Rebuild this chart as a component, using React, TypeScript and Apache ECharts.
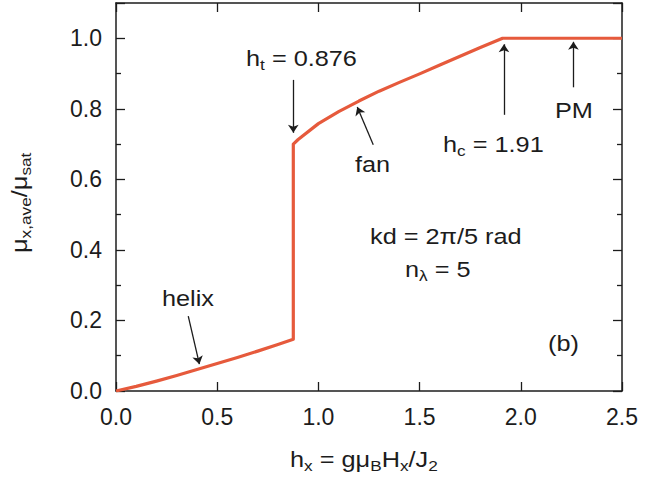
import React, { useEffect, useRef } from "react";
import * as echarts from "echarts";

// Magnetisation curve: helix branch, jump at h_t, fan branch up to h_c, then saturated PM
const helixH = [0, 0.1, 0.2, 0.3, 0.4, 0.5, 0.6, 0.7, 0.8, 0.876];
const helixM = [0, 0.013, 0.028, 0.044, 0.061, 0.078, 0.095, 0.113, 0.132, 0.147];
const fanH = [0.876, 0.9, 1.0, 1.1, 1.2, 1.3, 1.4, 1.5, 1.6, 1.7, 1.8, 1.91];
const fanM = [0.7, 0.713, 0.758, 0.792, 0.822, 0.85, 0.875, 0.899, 0.924, 0.949, 0.974, 1.0];
const pmH = [1.91, 2.5];
const pmM = [1.0, 1.0];

const xTicks = [0, 0.5, 1.0, 1.5, 2.0, 2.5];
const yTicks = [0, 0.2, 0.4, 0.6, 0.8, 1.0];

// Annotation arrows [fromH, fromM, toH, toM]
const arrows = [
  [0.876, 0.882, 0.876, 0.732],
  [1.271, 0.698, 1.192, 0.805],
  [1.917, 0.783, 1.917, 0.983],
  [2.26, 0.861, 2.26, 0.99],
  [0.357, 0.212, 0.412, 0.076],
];

const FONT = "'Liberation Sans', Arial, Helvetica, sans-serif";
const INK = "#1c1c1c";
const CURVE = "#e65a3c";
const SX = 1.15;

const richStyles = {
  m: { fontSize: 22, fontFamily: FONT, color: INK, lineHeight: 26, verticalAlign: "middle" },
  s: { fontSize: 15, fontFamily: FONT, color: INK, lineHeight: 15, verticalAlign: "bottom" },
};

function label(x: number, y: number, text: string, rotation = 0) {
  return {
    type: "text",
    x,
    y,
    rotation,
    scaleX: SX,
    silent: true,
    style: {
      text,
      rich: richStyles,
      font: `22px ${FONT}`,
      fill: INK,
      textAlign: "left",
      textVerticalAlign: "middle",
    },
  };
}

export default function App() {
  const ref = useRef<HTMLDivElement>(null);

  useEffect(() => {
    if (!ref.current) return;
    const chart = echarts.init(ref.current, undefined, { renderer: "svg" });

    const curve: number[][] = [];
    helixH.forEach((h, i) => curve.push([h, helixM[i]]));
    fanH.forEach((h, i) => curve.push([h, fanM[i]]));
    pmH.slice(1).forEach((h, i) => curve.push([h, pmM[i + 1]]));

    // frame lines stay on their own side of the grid
    const axisLine = { show: true, onZero: false, lineStyle: { color: INK, width: 1.5 } };
    const tickLabelFmt = (v: number) => v.toFixed(1);
    const tickStyle = { color: INK, width: 1.3 };
    const majorTicks = { show: true, inside: true, length: 9, lineStyle: tickStyle };
    const minorTicks = { show: true, splitNumber: 2, length: 5, lineStyle: tickStyle };

    const xBase = {
      type: "value",
      min: xTicks[0],
      max: xTicks[xTicks.length - 1],
      interval: 0.5,
      axisLine,
      axisTick: majorTicks,
      splitLine: { show: false },
    };
    const yBase = {
      type: "value",
      min: yTicks[0],
      max: 1.1,
      interval: 0.2,
      axisLine,
      axisTick: majorTicks,
      minorTick: minorTicks,
      splitLine: { show: false },
    };

    chart.setOption({
      animation: false,
      backgroundColor: "#ffffff",
      grid: { left: 116, right: 23, top: 3, bottom: 100, containLabel: false },
      xAxis: [
        {
          ...xBase,
          position: "bottom",
          axisLabel: {
            show: true,
            formatter: tickLabelFmt,
            fontSize: 23,
            fontFamily: FONT,
            color: INK,
            margin: 14,
          },
        },
        { ...xBase, position: "top", axisLabel: { show: false } },
      ],
      yAxis: [
        {
          ...yBase,
          position: "left",
          axisLabel: {
            show: true,
            formatter: tickLabelFmt,
            fontSize: 23,
            fontFamily: FONT,
            color: INK,
            margin: 14,
            showMaxLabel: false,
          },
        },
        { ...yBase, position: "right", axisLabel: { show: false } },
      ],
      series: [
        {
          type: "line",
          data: curve,
          showSymbol: false,
          symbol: "none",
          lineStyle: { color: CURVE, width: 3.2, join: "round" },
          silent: true,
          markLine: {
            silent: true,
            symbol: ["none", "arrow"],
            symbolSize: 8,
            label: { show: false },
            lineStyle: { color: INK, width: 1.3, type: "solid" },
            data: arrows.map((a) => [{ coord: [a[0], a[1]] }, { coord: [a[2], a[3]] }]),
          },
        },
      ],
      graphic: [
        label(246, 59, "{m|h}{s|t}{m| = 0.876}"),
        label(355, 165, "{m|fan}"),
        label(443, 145, "{m|h}{s|c}{m| = 1.91}"),
        label(555, 111, "{m|PM}"),
        label(162, 299, "{m|helix}"),
        label(370, 237, "{m|kd = 2π/5 rad}"),
        label(405, 270, "{m|n}{s|λ}{m| = 5}"),
        label(548, 344, "{m|(b)}"),
        label(290, 460, "{m|h}{s|x}{m| = gμ}{s|B}{m|H}{s|x}{m|/J}{s|2}"),
        label(20, 253, "{m|μ}{s|x,ave}{m|/μ}{s|sat}", Math.PI / 2),
      ],
    });

    return () => chart.dispose();
  }, []);

  return (
    <div
      ref={ref}
      style={{ position: "fixed", left: 0, top: 0, width: 645, height: 491, background: "#fff" }}
    />
  );
}
